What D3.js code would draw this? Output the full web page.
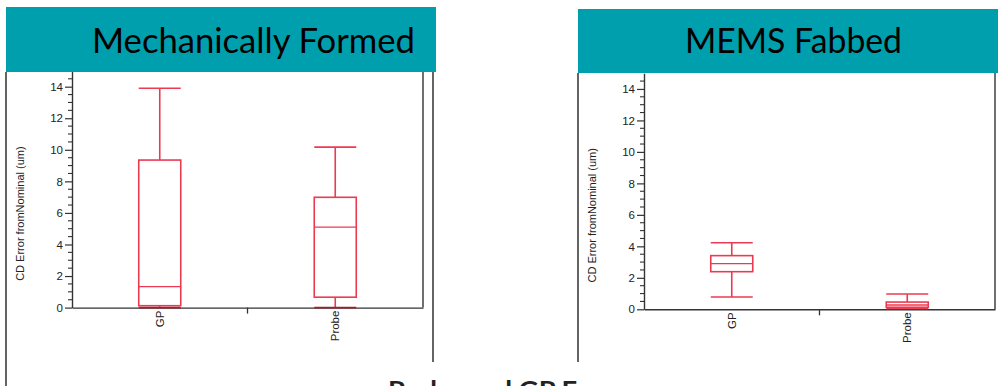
<!DOCTYPE html>
<html><head><meta charset="utf-8">
<script src="https://cdn.jsdelivr.net/npm/d3@7"></script>
<style>body{margin:0;background:#fff}svg{display:block}</style>
</head><body>
<script>
// ---- data ----
const panelTitles = ["Mechanically Formed", "MEMS Fabbed"];
const categories = ["GP", "Probe"];
const yTicks = [0, 2, 4, 6, 8, 10, 12, 14];
const yLabel = "CD Error fromNominal (um)";
// Mechanically Formed
const mechMin = [0.0, 0.0];
const mechQ1 = [0.12, 0.66];
const mechMed = [1.33, 5.1];
const mechQ3 = [9.35, 6.99];
const mechMax = [13.9, 10.17];
// MEMS Fabbed
const memsMin = [0.78, 0.05];
const memsQ1 = [2.39, 0.13];
const memsMed = [2.9, 0.27];
const memsQ3 = [3.41, 0.46];
const memsMax = [4.23, 0.97];
const bottomText = "Probe and GP Error";

const W = 999, H = 386;
const svg = d3.select("body").append("svg").attr("width", W).attr("height", H);
const RED = "#ec3a52", TEAL = "#009fae", AX = "#333";

function build(stats) {
  return categories.map((c, i) => ({cat: c, min: stats[0][i], q1: stats[1][i], med: stats[2][i], q3: stats[3][i], max: stats[4][i]}));
}
const panels = [
  {data: build([mechMin, mechQ1, mechMed, mechQ3, mechMax]), x0: 72, x1: 423, y0: 307.6, ppu: 15.78, labelX: 20},
  {data: build([memsMin, memsQ1, memsMed, memsQ3, memsMax]), x0: 644, x1: 995, y0: 309.3, ppu: 15.74, labelX: 592}
];

panels.forEach(p => {
  const g = svg.append("g");
  const y = d3.scaleLinear().domain([0, 15]).range([p.y0, p.y0 - 15 * p.ppu]);
  const x = d3.scaleBand().domain(categories).range([p.x0, p.x1]);
  const bw = 42;

  // minor ticks
  const minor = d3.range(0, 14.51, 0.5).filter(v => v % 2 !== 0);
  g.selectAll(".mt").data(minor).join("line")
    .attr("x1", p.x0 - 4).attr("x2", p.x0).attr("y1", d => y(d)).attr("y2", d => y(d))
    .attr("stroke", AX).attr("stroke-width", 1.1);

  const ya = d3.axisLeft(y).tickValues(yTicks).tickSize(7).tickPadding(2).tickSizeOuter(0);
  const yg = g.append("g").attr("transform", `translate(${p.x0},0)`).call(ya);
  yg.select(".domain").attr("stroke", AX).attr("stroke-width", 1.4);
  yg.selectAll(".tick line").attr("stroke", AX).attr("stroke-width", 1.2);
  yg.selectAll("text").attr("font-family", "Liberation Sans, Arial, sans-serif").attr("font-size", 11.5).attr("fill", "#222");

  // x axis
  const xa = d3.axisBottom(x).tickSize(0).tickSizeOuter(0);
  const xg = g.append("g").attr("transform", `translate(0,${p.y0})`).call(xa);
  xg.select(".domain").attr("stroke", AX).attr("stroke-width", 1.4);
  xg.selectAll("text").attr("font-family", "Liberation Sans, Arial, sans-serif").attr("font-size", 11.5).attr("fill", "#222")
    .attr("transform", "rotate(-90)").attr("text-anchor", "end").attr("dy", "0.35em").attr("x", -3).attr("y", 0);
  // separator tick between categories
  g.append("line").attr("x1", x("Probe")).attr("x2", x("Probe")).attr("y1", p.y0).attr("y2", p.y0 + 6)
    .attr("stroke", AX).attr("stroke-width", 1.3);
  // right frame
  g.append("line").attr("x1", p.x1).attr("x2", p.x1).attr("y1", p.y0).attr("y2", 60)
    .attr("stroke", AX).attr("stroke-width", 1.4);

  // y label
  g.append("text").attr("transform", `translate(${p.labelX},${p.y0 - 94}) rotate(-90)`)
    .attr("text-anchor", "middle").attr("dy", "0.35em")
    .attr("font-family", "Liberation Sans, Arial, sans-serif").attr("font-size", 11).attr("fill", "#222").text(yLabel);

  // boxes
  const b = g.selectAll(".box").data(p.data).join("g");
  const cx = d => x(d.cat) + x.bandwidth() / 2;
  b.append("line").attr("x1", cx).attr("x2", cx).attr("y1", d => y(d.max)).attr("y2", d => y(d.q3)).attr("stroke", RED).attr("stroke-width", 1.6);
  b.append("line").attr("x1", cx).attr("x2", cx).attr("y1", d => y(d.q1)).attr("y2", d => y(d.min)).attr("stroke", RED).attr("stroke-width", 1.6);
  b.append("line").attr("x1", d => cx(d) - bw / 2).attr("x2", d => cx(d) + bw / 2).attr("y1", d => y(d.max)).attr("y2", d => y(d.max)).attr("stroke", RED).attr("stroke-width", 1.6);
  b.append("line").attr("x1", d => cx(d) - bw / 2).attr("x2", d => cx(d) + bw / 2).attr("y1", d => y(d.min)).attr("y2", d => y(d.min)).attr("stroke", d => d.min < 0.03 ? "#a0202f" : RED).attr("stroke-width", 1.6);
  b.append("rect").attr("x", d => cx(d) - bw / 2).attr("width", bw).attr("y", d => y(d.q3)).attr("height", d => y(d.q1) - y(d.q3))
    .attr("fill", "none").attr("stroke", RED).attr("stroke-width", 1.6);
  b.append("line").attr("x1", d => cx(d) - bw / 2).attr("x2", d => cx(d) + bw / 2).attr("y1", d => y(d.med)).attr("y2", d => y(d.med)).attr("stroke", RED).attr("stroke-width", 1.4);
});

// image borders
const border = [[6, 72, 386], [433, 72, 362], [578, 73, 362]];
svg.selectAll(".bd").data(border).join("line")
  .attr("x1", d => d[0]).attr("x2", d => d[0]).attr("y1", d => d[1]).attr("y2", d => d[2])
  .attr("stroke", "#111").attr("stroke-width", 1.3);

// headers
const headers = [
  {x: 6, y: 7, w: 430, h: 65, tx: 92, tw: 323},
  {x: 578, y: 9, w: 420, h: 64, tx: 685, tw: 217}
];
headers.forEach((h, i) => {
  svg.append("rect").attr("x", h.x).attr("y", h.y).attr("width", h.w).attr("height", h.h).attr("fill", TEAL);
  svg.append("text").attr("x", h.tx).attr("y", 53.3).attr("font-family", "Lato, 'Open Sans', sans-serif").attr("font-size", 34)
    .attr("fill", "#000").attr("textLength", h.tw).attr("lengthAdjust", "spacingAndGlyphs").text(panelTitles[i]);
});

svg.append("text").attr("x", 388).attr("y", 399).attr("font-family", "Lato, 'Open Sans', sans-serif").attr("font-weight", "bold")
  .attr("font-size", 24).attr("fill", "#222").attr("textLength", 235).attr("lengthAdjust", "spacingAndGlyphs").text(bottomText);
</script>
</body></html>
